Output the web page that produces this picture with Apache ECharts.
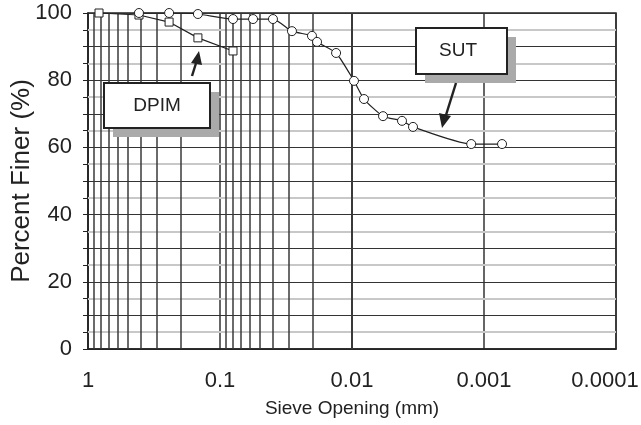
<!DOCTYPE html>
<html>
<head>
<meta charset="utf-8">
<script src="https://cdn.jsdelivr.net/npm/echarts@6/dist/echarts.min.js"></script>
<style>html,body{margin:0;padding:0;background:#fff}#c{width:641px;height:425px}</style>
</head>
<body>
<div id="c"></div>
<script>
// Data
var sutSize = [0.411, 0.243, 0.147, 0.0797, 0.0562, 0.0397, 0.0285, 0.0201, 0.0184, 0.0132, 0.00966, 0.00811, 0.00582, 0.00418, 0.00345, 0.00125, 0.00073];
var sutFiner = [100, 100, 99.7, 98.2, 98.2, 98.2, 94.6, 93.2, 91.4, 88.1, 79.8, 74.4, 69.3, 67.9, 66.1, 61.0, 61.0];
var dpimSize = [0.825, 0.411, 0.243, 0.147, 0.0797];
var dpimFiner = [100, 99.4, 97.3, 92.6, 88.7];
var xTickLabels = ['1', '0.1', '0.01', '0.001', '0.0001'];
var yTickLabels = [0, 20, 40, 60, 80, 100];
var decades = [1, 0.1, 0.01, 0.001, 0.0001];
var multipliers = [2, 3, 4, 5, 6, 7, 8, 9];

var FONT = 'Liberation Sans, Arial, sans-serif';
var vLines = [];
decades.forEach(function (d) {
  if (d > 0.0001) {
    multipliers.forEach(function (m) { vLines.push({ xAxis: +(d * m / 10).toPrecision(3) }); });
  }
});
var hLight = [];
for (var k = 5; k < 100; k += 10) hLight.push({ yAxis: k });

function pairs(xs, ys) { return xs.map(function (x, i) { return [x, ys[i]]; }); }

var chart = echarts.init(document.getElementById('c'));
chart.setOption({
  animation: false,
  grid: { left: 88, right: 25, top: 13, bottom: 76, containLabel: false, outerBoundsMode: 'none',
    show: true, borderColor: '#222', borderWidth: 1.5, backgroundColor: '#fff' },
  xAxis: {
    type: 'log', min: 0.0001, max: 1, inverse: true, logBase: 10,
    name: 'Sieve Opening (mm)', nameLocation: 'middle', nameGap: 50, nameMoveOverlap: false,
    nameTextStyle: { fontFamily: FONT, fontSize: 19, color: '#222' },
    axisLine: { show: true, lineStyle: { color: '#222', width: 1.5 } },
    axisTick: { show: false },
    axisLabel: {
      margin: 21, fontFamily: FONT, fontSize: 22, color: '#222',
      formatter: function (v) {
        var e = -Math.round(Math.log10(v));
        return e === xTickLabels.length - 1 ? '{r|' + xTickLabels[e] + '}' : xTickLabels[e];
      },
      rich: { r: { fontFamily: FONT, fontSize: 22, color: '#222', padding: [0, 22, 0, 0] } }
    },
    splitLine: { show: true, lineStyle: { color: '#333', width: 1.5 } }
  },
  yAxis: {
    type: 'value', min: 0, max: 100, interval: 10,
    name: 'Percent Finer (%)', nameLocation: 'middle', nameGap: 53, nameMoveOverlap: false,
    nameTextStyle: { fontFamily: FONT, fontSize: 26, color: '#222' },
    axisLine: { show: true, lineStyle: { color: '#222', width: 1.5 } },
    axisTick: { show: true, inside: false, length: 5, lineStyle: { color: '#222' } },
    minorTick: { show: true, splitNumber: 2, length: 5, lineStyle: { color: '#222' } },
    axisLabel: {
      margin: 16, fontFamily: FONT, fontSize: 22, color: '#222',
      formatter: function (v) { return yTickLabels.indexOf(v) >= 0 ? String(v) : ''; }
    },
    splitLine: { show: true, lineStyle: { color: '#333', width: 1 } },
    minorSplitLine: { show: false }
  },
  series: [
    {
      type: 'line', data: [], silent: true,
      markLine: { silent: true, symbol: 'none', label: { show: false }, animation: false,
        lineStyle: { color: '#c8c8c8', width: 2, type: 'solid' }, data: hLight },
      z: 1
    },
    {
      type: 'line', data: [], silent: true,
      markLine: { silent: true, symbol: 'none', label: { show: false }, animation: false,
        lineStyle: { color: '#3a3a3a', width: 1.5, type: 'solid' }, data: vLines },
      z: 2
    },
    {
      name: 'DPIM', type: 'line', data: pairs(dpimSize, dpimFiner),
      symbol: 'rect', symbolSize: 8,
      lineStyle: { color: '#222', width: 1.2 },
      itemStyle: { color: '#fff', borderColor: '#222', borderWidth: 1 },
      z: 5
    },
    {
      name: 'SUT', type: 'line', data: pairs(sutSize, sutFiner), smooth: 0.2,
      symbol: 'circle', symbolSize: 9,
      lineStyle: { color: '#222', width: 1.2 },
      itemStyle: { color: '#fff', borderColor: '#222', borderWidth: 1 },
      z: 6
    }
  ],
  graphic: [
    { type: 'rect', shape: { x: 113, y: 92, width: 106, height: 45 }, style: { fill: '#aaa' }, z: 50 },
    { type: 'rect', shape: { x: 104, y: 83, width: 106, height: 45 }, style: { fill: '#fff', stroke: '#222', lineWidth: 2 }, z: 51 },
    { type: 'text', x: 157, y: 106, style: { text: 'DPIM', fontFamily: FONT, fontSize: 19, fill: '#222', align: 'center', verticalAlign: 'middle' }, z: 52 },
    { type: 'rect', shape: { x: 425, y: 37, width: 91, height: 46 }, style: { fill: '#aaa' }, z: 50 },
    { type: 'rect', shape: { x: 416, y: 28, width: 91, height: 46 }, style: { fill: '#fff', stroke: '#222', lineWidth: 2 }, z: 51 },
    { type: 'text', x: 458, y: 51, style: { text: 'SUT', fontFamily: FONT, fontSize: 19, fill: '#222', align: 'center', verticalAlign: 'middle' }, z: 52 },
    { type: 'line', shape: { x1: 192, y1: 76, x2: 197, y2: 60 }, style: { stroke: '#222', lineWidth: 2.5 }, z: 52 },
    { type: 'polygon', shape: { points: [[199, 51], [191, 63], [202, 65]] }, style: { fill: '#222' }, z: 52 },
    { type: 'line', shape: { x1: 456, y1: 83, x2: 446, y2: 115 }, style: { stroke: '#222', lineWidth: 2.5 }, z: 52 },
    { type: 'polygon', shape: { points: [[442, 128], [439, 113], [451, 116]] }, style: { fill: '#222' }, z: 52 }
  ]
});
</script>
</body>
</html>
